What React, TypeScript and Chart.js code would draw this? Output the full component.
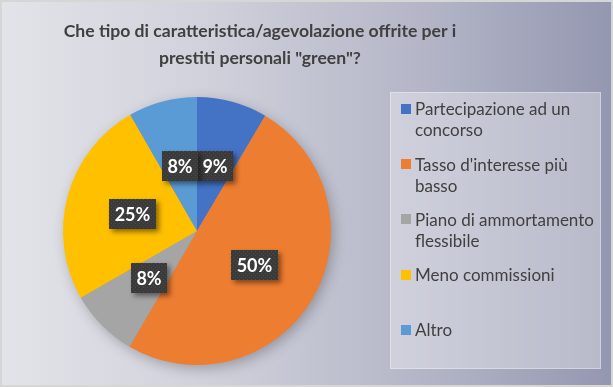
import React, { useEffect, useRef } from "react";
import { Chart, registerables } from "chart.js";

Chart.register(...registerables);

const titleLines = [
  "Che tipo di caratteristica/agevolazione offrite per i",
  "prestiti personali \"green\"?",
];
const categories = [
  "Partecipazione ad un concorso",
  "Tasso d'interesse più basso",
  "Piano di ammortamento flessibile",
  "Meno commissioni",
  "Altro",
];
const values = [8.5, 49.9, 8.3, 25.0, 8.3];
const percentLabels = ["9%", "50%", "8%", "25%", "8%"];
const colors = ["#4472C4", "#ED7D31", "#A5A5A5", "#FFC000", "#5B9BD5"];

const FONT = "Lato, 'Open Sans', sans-serif";
const TEXT = "#404040";

function wrap(ctx: CanvasRenderingContext2D, text: string, maxW: number): string[] {
  const words = text.split(" ");
  const lines: string[] = [];
  let cur = "";
  for (const w of words) {
    const t = cur ? cur + " " + w : w;
    if (ctx.measureText(t).width > maxW && cur) {
      lines.push(cur);
      cur = w;
    } else cur = t;
  }
  if (cur) lines.push(cur);
  return lines;
}

const decorPlugin = {
  id: "decor",
  beforeDatasetsDraw(chart: any) {
    const ctx = chart.ctx as CanvasRenderingContext2D;
    const arc = chart.getDatasetMeta(0).data[0];
    if (!arc) return;
    ctx.save();
    ctx.shadowColor = "rgba(0,0,0,0.28)";
    ctx.shadowBlur = 14;
    ctx.shadowOffsetX = 3;
    ctx.shadowOffsetY = 4;
    ctx.fillStyle = "#999";
    ctx.beginPath();
    ctx.arc(arc.x, arc.y, arc.outerRadius - 1, 0, Math.PI * 2);
    ctx.fill();
    ctx.restore();
  },
  afterDatasetsDraw(chart: any) {
    const ctx = chart.ctx as CanvasRenderingContext2D;
    const pc = document.createElement("canvas");
    pc.width = 4;
    pc.height = 4;
    const p = pc.getContext("2d")!;
    p.fillStyle = "#3a3a3a";
    p.fillRect(0, 0, 4, 4);
    p.fillStyle = "#4c4c4c";
    p.fillRect(1, 1, 1, 1);
    p.fillRect(3, 3, 1, 1);
    const pattern = ctx.createPattern(pc, "repeat")!;

    const meta = chart.getDatasetMeta(0);
    ctx.font = `bold 18px ${FONT}`;
    meta.data.forEach((arc: any, i: number) => {
      const pos = arc.tooltipPosition(false);
      const label = percentLabels[i];
      const tw = ctx.measureText(label).width;
      const w = Math.round(tw + 11);
      const h = 30;
      const x = Math.round(pos.x - w / 2);
      const y = Math.round(pos.y - h / 2);
      ctx.save();
      ctx.shadowColor = "rgba(0,0,0,0.45)";
      ctx.shadowBlur = 5;
      ctx.shadowOffsetX = 3;
      ctx.shadowOffsetY = 3;
      ctx.fillStyle = "#3a3a3a";
      ctx.fillRect(x, y, w, h);
      ctx.restore();
      ctx.fillStyle = pattern;
      ctx.fillRect(x, y, w, h);
      ctx.fillStyle = "#ffffff";
      ctx.textAlign = "center";
      ctx.textBaseline = "middle";
      ctx.fillText(label, x + w / 2, y + h / 2 + 1);
    });
  },
  afterDraw(chart: any) {
    const ctx = chart.ctx as CanvasRenderingContext2D;
    ctx.save();
    ctx.fillStyle = TEXT;
    ctx.font = `bold 17.6px ${FONT}`;
    ctx.textAlign = "center";
    ctx.textBaseline = "middle";
    titleLines.forEach((t, i) => ctx.fillText(t, 258, 29 + i * 27));

    const bx = 388, by = 90, bw = 211, bh = 277;
    ctx.fillStyle = "rgba(255,255,255,0.33)";
    ctx.fillRect(bx, by, bw, bh);
    ctx.strokeStyle = "rgba(255,255,255,0.35)";
    ctx.lineWidth = 1;
    ctx.strokeRect(bx + 0.5, by + 0.5, bw - 1, bh - 1);

    ctx.font = `17px ${FONT}`;
    ctx.textAlign = "left";
    ctx.textBaseline = "middle";
    categories.forEach((c, i) => {
      const y0 = 107 + i * 55.2;
      ctx.fillStyle = colors[i];
      ctx.fillRect(399, Math.round(y0 - 5), 10, 10);
      ctx.fillStyle = TEXT;
      const lines = wrap(ctx, c, 184);
      lines.forEach((l, j) => ctx.fillText(l, 413, y0 + j * 21 + 1));
    });
    ctx.restore();
  },
};

export default function App() {
  const ref = useRef<HTMLCanvasElement | null>(null);
  useEffect(() => {
    document.body.style.margin = "0";
    const chart = new Chart(ref.current!, {
      type: "pie",
      data: {
        labels: categories,
        datasets: [
          {
            data: values,
            backgroundColor: colors,
            borderWidth: 0,
          },
        ],
      },
      options: {
        animation: false,
        responsive: false,
        devicePixelRatio: 1,
        layout: { padding: { left: 61, top: 95, right: 280, bottom: 20 } },
        plugins: {
          legend: { display: false },
          title: { display: false },
          tooltip: { enabled: false },
        },
      },
      plugins: [decorPlugin],
    });
    return () => chart.destroy();
  }, []);
  return (
    <div
      style={{
        position: "absolute",
        left: 0,
        top: 0,
        width: 613,
        height: 387,
        boxSizing: "border-box",
        border: "2px solid #d6d6d6",
        background: "linear-gradient(to right, #e3e4e9 0%, #cfd0da 35%, #b3b5c7 70%, #9497b0 100%)",
      }}
    >
      <canvas ref={ref} width={609} height={383} style={{ display: "block", width: 609, height: 383 }} />
    </div>
  );
}
